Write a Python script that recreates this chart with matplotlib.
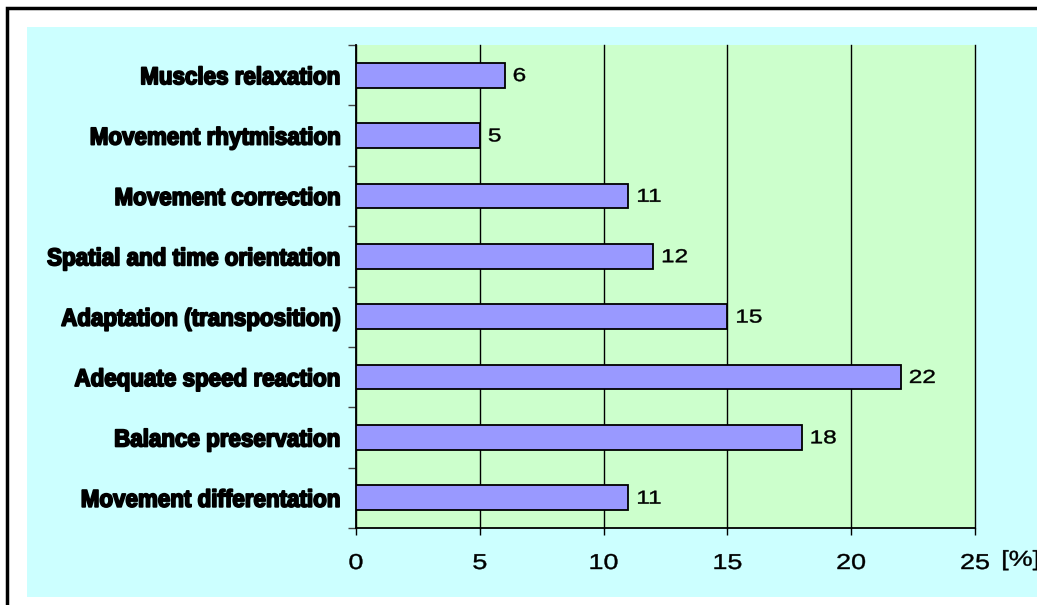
import matplotlib
matplotlib.use('Agg')
import matplotlib.pyplot as plt
from matplotlib.patches import Rectangle
from matplotlib.patheffects import AbstractPathEffect
from matplotlib.transforms import Affine2D

categories = ['Muscles relaxation', 'Movement rhytmisation', 'Movement correction',
              'Spatial and time orientation', 'Adaptation (transposition)',
              'Adequate speed reaction', 'Balance preservation', 'Movement differentation']
values = [6, 5, 11, 12, 15, 22, 18, 11]
xticks = [0, 5, 10, 15, 20, 25]

plt.rcParams['font.family'] = ['Liberation Sans', 'DejaVu Sans']


class Squeeze(AbstractPathEffect):
    """Scale glyphs horizontally about one side of the text, with an optional outline."""

    def __init__(self, sx, anchor='left', stroke=0.0):
        super().__init__()
        self.sx = sx
        self.anchor = anchor
        self.stroke = stroke

    def draw_path(self, renderer, gc, tpath, affine, rgbFace=None):
        ext = tpath.get_extents()
        x0 = {'left': ext.x0, 'center': 0.5 * (ext.x0 + ext.x1), 'right': ext.x1}[self.anchor]
        t = Affine2D().translate(-x0, 0).scale(self.sx, 1).translate(x0, 0) + affine
        if self.stroke > 0:
            gc0 = renderer.new_gc()
            gc0.copy_properties(gc)
            gc0.set_linewidth(self.stroke)
            gc0.set_foreground(rgbFace if rgbFace is not None else 'black')
            renderer.draw_path(gc0, tpath, t, rgbFace)
            gc0.restore()
        else:
            renderer.draw_path(gc, tpath, t, rgbFace)


fig = plt.figure(figsize=(10.37, 6.05), dpi=100)
W, H = 1037.0, 605.0

# outer frame and chart area
fig.patches.append(Rectangle((7 / W, -0.1), 1.2, 1 - 8 / H + 0.1, transform=fig.transFigure,
                             facecolor='white', edgecolor='black', linewidth=2.5, zorder=-2))
fig.patches.append(Rectangle((27 / W, 1 - 597 / H), 1.0, (597 - 27) / H, transform=fig.transFigure,
                             facecolor='#CCFFFF', edgecolor='none', zorder=-1))

ax = fig.add_axes([356 / W, 1 - 528 / H, (975 - 356) / W, (528 - 45) / H])
ax.set_facecolor('#CCFFCC')

n = len(categories)
ypos = list(range(n - 1, -1, -1))
ax.barh(ypos, values, height=0.41, color='#9999FF', edgecolor='black', linewidth=1.3, zorder=3)

for y, v in zip(ypos, values):
    t = ax.annotate(str(v), (v, y), xytext=(6, -1), textcoords='offset points',
                    va='center', ha='left', fontsize=13.5, zorder=4)
    t.set_path_effects([Squeeze(1.3, 'left', stroke=0.3)])

ax.set_xlim(0, 25)
ax.set_ylim(-0.5, n - 0.5)
ax.set_xticks(xticks)
ax.set_xticklabels([str(t) for t in xticks], fontsize=15.5)
ax.xaxis.grid(True, color='black', linewidth=1.0, zorder=1)
for gl in ax.get_xgridlines():
    gl.set_clip_on(False)
ax.set_axisbelow(True)
for lab in ax.get_xticklabels():
    lab.set_path_effects([Squeeze(1.25, 'center', stroke=0.3)])

ax.set_yticks(ypos)
ax.set_yticklabels(categories, fontsize=17.5, fontweight='bold')
for lab in ax.get_yticklabels():
    lab.set_path_effects([Squeeze(0.92, 'right', stroke=1.3)])
ax.set_yticks([i - 0.5 for i in range(n + 1)], minor=True)
ax.tick_params(axis='y', which='major', length=0, pad=11)
ax.tick_params(axis='y', which='minor', length=6, width=1, direction='out', color='#444444')
ax.tick_params(axis='x', length=5, width=1, direction='out', pad=13)

for s in ['top', 'right']:
    ax.spines[s].set_visible(False)
for s in ['left', 'bottom']:
    ax.spines[s].set_linewidth(1.3)

pct = ax.text(1.043, -0.045, '[%]', transform=ax.transAxes, fontsize=15.5, ha='left', va='top')
pct.set_path_effects([Squeeze(1.25, 'left', stroke=0.3)])

fig.savefig('out.png', dpi=100)
